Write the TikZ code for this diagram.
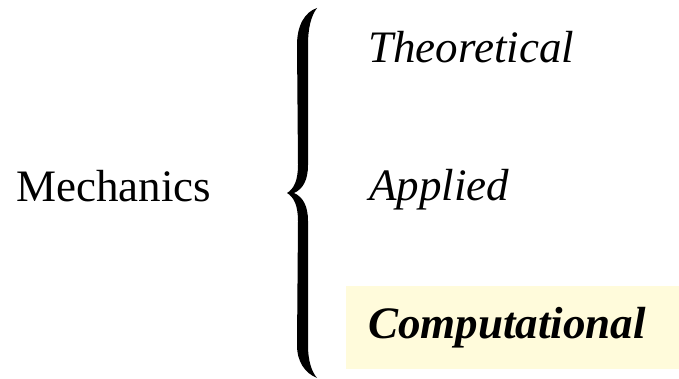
\documentclass[tikz,border=0pt]{standalone}
\usepackage{fontspec}
\setmainfont{Liberation Serif}
\newfontfamily\tnr{Liberation Serif}
\definecolor{hl}{RGB}{255,251,219}
\begin{document}
\begin{tikzpicture}[x=1pt,y=-1pt,
  lbl/.style={inner sep=0pt, anchor=base west, font=\tnr\fontsize{45}{54}\selectfont},
  hlbox/.style={fill=hl, draw=none, inner sep=0pt, anchor=north west, minimum width=333pt, minimum height=83pt}]
\useasboundingbox (0,0) rectangle (679,379);
% highlight box
\node[hlbox] (cbox) at (346,286) {};
% texts
\node[lbl] (mech) at (16,202) {Mechanics};
\node[lbl] (theo) at (368,63) {\itshape Theoretical};
\node[lbl] (appl) at (369,201) {\itshape Applied};
\node[lbl] (comp) at (368,338) {\bfseries\itshape Computational};
% brace
\fill (317,8) .. controls (305,12) and (297,25) .. (297,45) -- (298,165)
  .. controls (298,180) and (294,189) .. (287,193)
  .. controls (294,197) and (298,206) .. (298,221) -- (297,345)
  .. controls (297,362) and (305,373) .. (317,378)
  .. controls (312,372) and (308,362) .. (308,345) -- (308,221)
  .. controls (308,206) and (303,197) .. (294,193)
  .. controls (303,189) and (308,180) .. (308,165) -- (308,45)
  .. controls (308,28) and (311,16) .. (317,8) -- cycle;
\end{tikzpicture}
\end{document}
